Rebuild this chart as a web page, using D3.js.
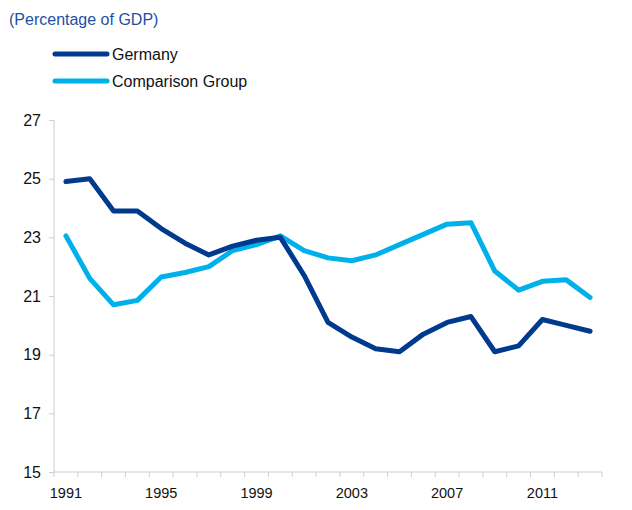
<!DOCTYPE html>
<html>
<head>
<meta charset="utf-8">
<script src="https://cdn.jsdelivr.net/npm/d3@7"></script>
<style>
  body { margin: 0; background: #fff; }
  svg { font-family: Arial, "Liberation Sans", sans-serif; }
</style>
</head>
<body>
<svg id="grafico" width="632" height="510"></svg>
<script>
// data
var years = d3.range(1991, 2014);
var germany = [24.9, 25.0, 23.9, 23.9, 23.3, 22.8, 22.4, 22.7, 22.9, 23.0, 21.7, 20.1,
               19.6, 19.2, 19.1, 19.7, 20.1, 20.3, 19.1, 19.3, 20.2, 20.0, 19.8];
var comparison = [23.05, 21.6, 20.7, 20.85, 21.65, 21.8, 22.0, 22.55, 22.75, 23.05, 22.55, 22.3,
                  22.2, 22.4, 22.75, 23.1, 23.45, 23.5, 21.85, 21.2, 21.5, 21.55, 20.95];
var yTicks = [15, 17, 19, 21, 23, 25, 27];
var xLabels = [1991, 1995, 1999, 2003, 2007, 2011];
var seriesNames = ["Germany", "Comparison Group"];

// dimensions
var svg = d3.select("svg#grafico"),
    plotLeft = 54, plotRight = 602, plotTop = 120, plotBottom = 472;

// scales
var x = d3.scaleBand().domain(years).range([plotLeft, plotRight]);
var y = d3.scaleLinear().domain([15, 27]).range([plotBottom, plotTop]);
var color = d3.scaleOrdinal().domain(seriesNames).range(["#003a8f", "#00b0ea"]);

// title
svg.append("text")
    .attr("x", 9)
    .attr("y", 25)
    .style("font-size", "16px")
    .style("fill", "#1f4fa3")
    .text("(Percentage of GDP)");

// legend
var legend = svg.selectAll(".legend")
    .data(seriesNames)
    .enter().append("g")
    .attr("class", "legend")
    .attr("transform", function(d, i) { return "translate(0," + (54 + i * 27) + ")"; });
legend.append("line")
    .attr("x1", 55).attr("x2", 107)
    .attr("stroke", function(d) { return color(d); })
    .attr("stroke-width", 5)
    .attr("stroke-linecap", "round");
legend.append("text")
    .attr("x", 112)
    .attr("dy", "0.35em")
    .style("font-size", "16px")
    .style("fill", "#111")
    .text(function(d) { return d; });

// y axis
var yAxis = svg.append("g")
    .attr("transform", "translate(" + plotLeft + ",0)")
    .call(d3.axisLeft(y).tickValues(yTicks).tickSize(5).tickPadding(8));
yAxis.selectAll("line, path").attr("stroke", "#cfcfcf");
yAxis.select(".domain").attr("d", "M0," + plotTop + "V" + plotBottom);
yAxis.selectAll("text")
    .style("font-size", "16px")
    .style("fill", "#111")
    .style("font-family", "Arial, 'Liberation Sans', sans-serif");

// x axis: ticks at category boundaries, labels every 4 years
var xAxis = svg.append("g").attr("transform", "translate(0," + plotBottom + ")");
xAxis.append("line")
    .attr("x1", plotLeft).attr("x2", plotRight)
    .attr("stroke", "#cfcfcf");
xAxis.selectAll(".tick")
    .data(years.concat([2014]))
    .enter().append("line")
    .attr("class", "tick")
    .attr("x1", function(d) { return d === 2014 ? plotRight : x(d); })
    .attr("x2", function(d) { return d === 2014 ? plotRight : x(d); })
    .attr("y1", 0).attr("y2", 5)
    .attr("stroke", "#cfcfcf");
xAxis.selectAll(".label")
    .data(xLabels)
    .enter().append("text")
    .attr("class", "label")
    .attr("x", function(d) { return x(d) + x.bandwidth() / 2; })
    .attr("y", 26)
    .attr("text-anchor", "middle")
    .style("font-size", "14.5px")
    .style("fill", "#111")
    .text(function(d) { return d; });

// lines
var line = d3.line()
    .x(function(d, i) { return x(years[i]) + x.bandwidth() / 2; })
    .y(function(d) { return y(d); });

svg.selectAll(".series")
    .data([{name: "Comparison Group", values: comparison}, {name: "Germany", values: germany}])
    .enter().append("path")
    .attr("class", "series")
    .attr("d", function(d) { return line(d.values); })
    .attr("fill", "none")
    .attr("stroke", function(d) { return color(d.name); })
    .attr("stroke-width", 5)
    .attr("stroke-linecap", "round")
    .attr("stroke-linejoin", "round");
</script>
</body>
</html>
